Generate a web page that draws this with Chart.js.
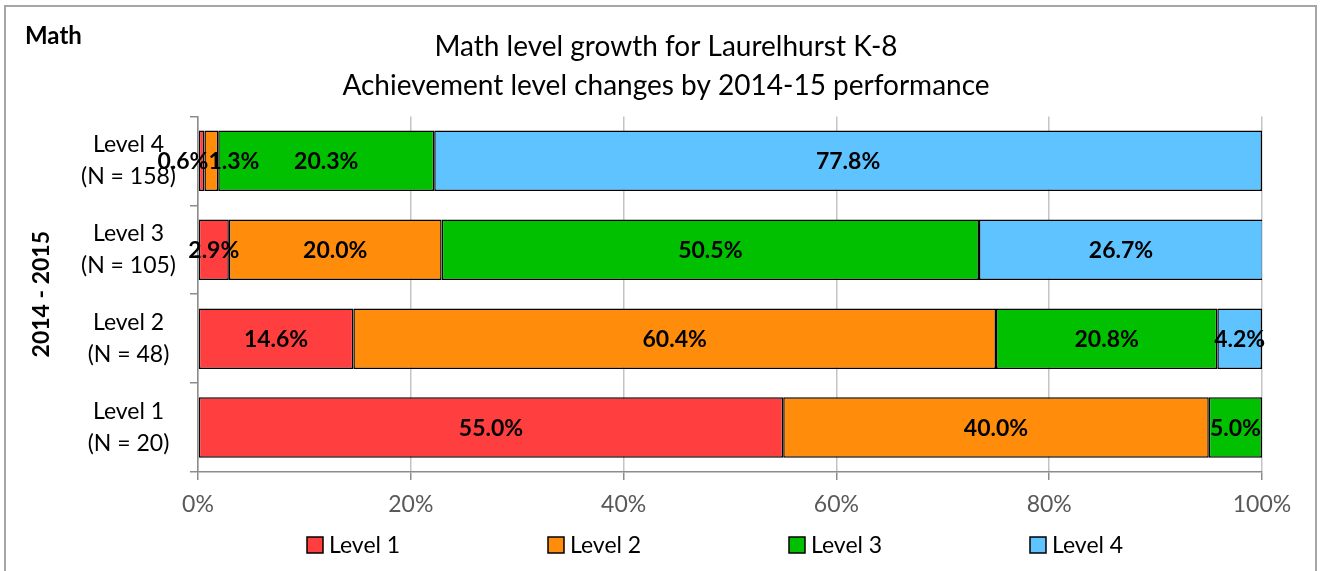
<!DOCTYPE html>
<html>
<head>
<meta charset="utf-8">
<title>Math level growth</title>
<script src="https://cdn.jsdelivr.net/npm/chart.js@4.4.0/dist/chart.umd.min.js"></script>
<style>
  html, body { margin: 0; padding: 0; background: #fff; }
</style>
</head>
<body>
<canvas id="growth-chart" width="1321" height="571"></canvas>
<script>
// categories top to bottom, as in the picture
const categories = [
    ['Level 4', '(N = 158)'],
    ['Level 3', '(N = 105)'],
    ['Level 2', '(N = 48)'],
    ['Level 1', '(N = 20)']
];
const seriesNames = ['Level 1', 'Level 2', 'Level 3', 'Level 4'];
const level1 = [0.6, 2.9, 14.6, 55.0];
const level2 = [1.3, 20.0, 60.4, 40.0];
const level3 = [20.3, 50.5, 20.8, 5.0];
const level4 = [77.8, 26.7, 4.2, 0];
const xTickValues = [0, 20, 40, 60, 80, 100];

const seriesColors = ['#ff3f3f', '#ff8c0a', '#00c000', '#5fc3ff'];
const FONT = 'Lato, "Open Sans", sans-serif';

const seriesData = [level1, level2, level3, level4];

// frame, corner label and the white background
const framePlugin = {
    id: 'frame',
    beforeDraw(chart) {
        const ctx = chart.ctx;
        ctx.save();
        ctx.fillStyle = '#fff';
        ctx.fillRect(0, 0, chart.width, chart.height);
        ctx.strokeStyle = '#a6a6a6';
        ctx.lineWidth = 2;
        ctx.strokeRect(5, 6, 1311, 600);
        ctx.fillStyle = '#000';
        ctx.font = 'bold 24px ' + FONT;
        ctx.textBaseline = 'middle';
        ctx.fillText('Math', 25, 36);
        ctx.restore();
    },
    afterLayout(chart) {
        // the title sits over the whole frame, not the plot
        if (chart.titleBlock) {
            chart.titleBlock.left += 35;
            chart.titleBlock.right += 35;
        }
    }
};

// value labels in the middle of each segment, spread apart when two tiny ones collide
const segmentLabels = {
    id: 'segmentLabels',
    afterDatasetsDraw(chart) {
        const ctx = chart.ctx;
        ctx.save();
        ctx.font = 'bold 23px ' + FONT;
        ctx.fillStyle = '#000';
        ctx.textAlign = 'left';
        ctx.textBaseline = 'middle';
        const sets = chart.data.datasets;
        const fmt = v => v.toFixed(1) + '%';
        for (let j = 0; j < chart.data.labels.length; j++) {
            let lastRight = -Infinity;
            sets.forEach((ds, i) => {
                const v = ds.data[j];
                if (!v) return;
                const bar = chart.getDatasetMeta(i).data[j];
                const p = bar.getCenterPoint();
                const text = fmt(v);
                const w = ctx.measureText(text).width;
                let x = p.x - w / 2;
                const next = sets[i + 1];
                if (next && next.data[j]) {
                    const nextBar = chart.getDatasetMeta(i + 1).data[j];
                    const nw = ctx.measureText(fmt(next.data[j])).width;
                    if (w > bar.width && nw > nextBar.width) {
                        x = bar.base + bar.width - w + 4;
                    }
                }
                if (x < lastRight) x = lastRight;
                ctx.fillText(text, x, p.y + 1);
                lastRight = x + w;
            });
        }
        ctx.restore();
    }
};

// legend spread out like the original
const wideLegend = {
    id: 'wideLegend',
    afterDraw(chart) {
        const ctx = chart.ctx;
        const step = 241;
        const startX = 307;
        const y = 545;
        ctx.save();
        ctx.font = '23px ' + FONT;
        ctx.textBaseline = 'middle';
        chart.data.datasets.forEach((ds, i) => {
            const x = startX + i * step;
            ctx.fillStyle = ds.backgroundColor;
            ctx.fillRect(x, y - 8, 16, 16);
            ctx.strokeStyle = '#000';
            ctx.lineWidth = 1.5;
            ctx.strokeRect(x, y - 8, 16, 16);
            ctx.fillStyle = '#000';
            ctx.fillText(ds.label, x + 22, y + 1);
        });
        ctx.restore();
    }
};

const ctx = document.getElementById('growth-chart').getContext('2d');

new Chart(ctx, {
    type: 'bar',
    data: {
        labels: categories,
        datasets: seriesNames.map((name, i) => ({
            label: name,
            data: seriesData[i],
            backgroundColor: seriesColors[i],
            borderColor: '#000',
            borderWidth: 1.5,
            borderSkipped: false,
            categoryPercentage: 1,
            barPercentage: 0.68
        }))
    },
    options: {
        indexAxis: 'y',
        responsive: false,
        animation: false,
        layout: { padding: { left: 0, right: 59, top: 0, bottom: 49 } },
        plugins: {
            legend: { display: false },
            tooltip: { enabled: false },
            title: {
                display: true,
                text: ['Math level growth for Laurelhurst K-8', 'Achievement level changes by 2014-15 performance'],
                color: '#000',
                font: { family: FONT, size: 28, weight: 'normal', lineHeight: 1.4 },
                padding: { top: 27, bottom: 11 }
            }
        },
        scales: {
            x: {
                stacked: true,
                min: 0,
                max: 100,
                afterFit: s => { s.height = 50; },
                afterBuildTicks: s => { s.ticks = xTickValues.map(v => ({ value: v })); },
                ticks: {
                    callback: v => v + '%',
                    color: '#595959',
                    padding: 11,
                    font: { family: FONT, size: 23 }
                },
                grid: { color: '#c4c4c4', lineWidth: 1.5, tickLength: 8, tickColor: '#8c8c8c' },
                border: { color: '#8c8c8c', width: 1.5 }
            },
            y: {
                stacked: true,
                afterFit: s => { s.width = 198; },
                ticks: {
                    color: '#000',
                    crossAlign: 'center',
                    padding: 14,
                    font: { family: FONT, size: 23, lineHeight: 1.39 }
                },
                grid: { drawOnChartArea: false, offset: true, tickLength: 8, color: '#8c8c8c', lineWidth: 1.5 },
                border: { color: '#8c8c8c', width: 1.5 },
                title: {
                    display: true,
                    text: '2014 - 2015',
                    color: '#000',
                    font: { family: FONT, size: 23, weight: 'bold' },
                    padding: { top: 28, bottom: 4 }
                }
            }
        }
    },
    plugins: [framePlugin, segmentLabels, wideLegend]
});
</script>
</body>
</html>
